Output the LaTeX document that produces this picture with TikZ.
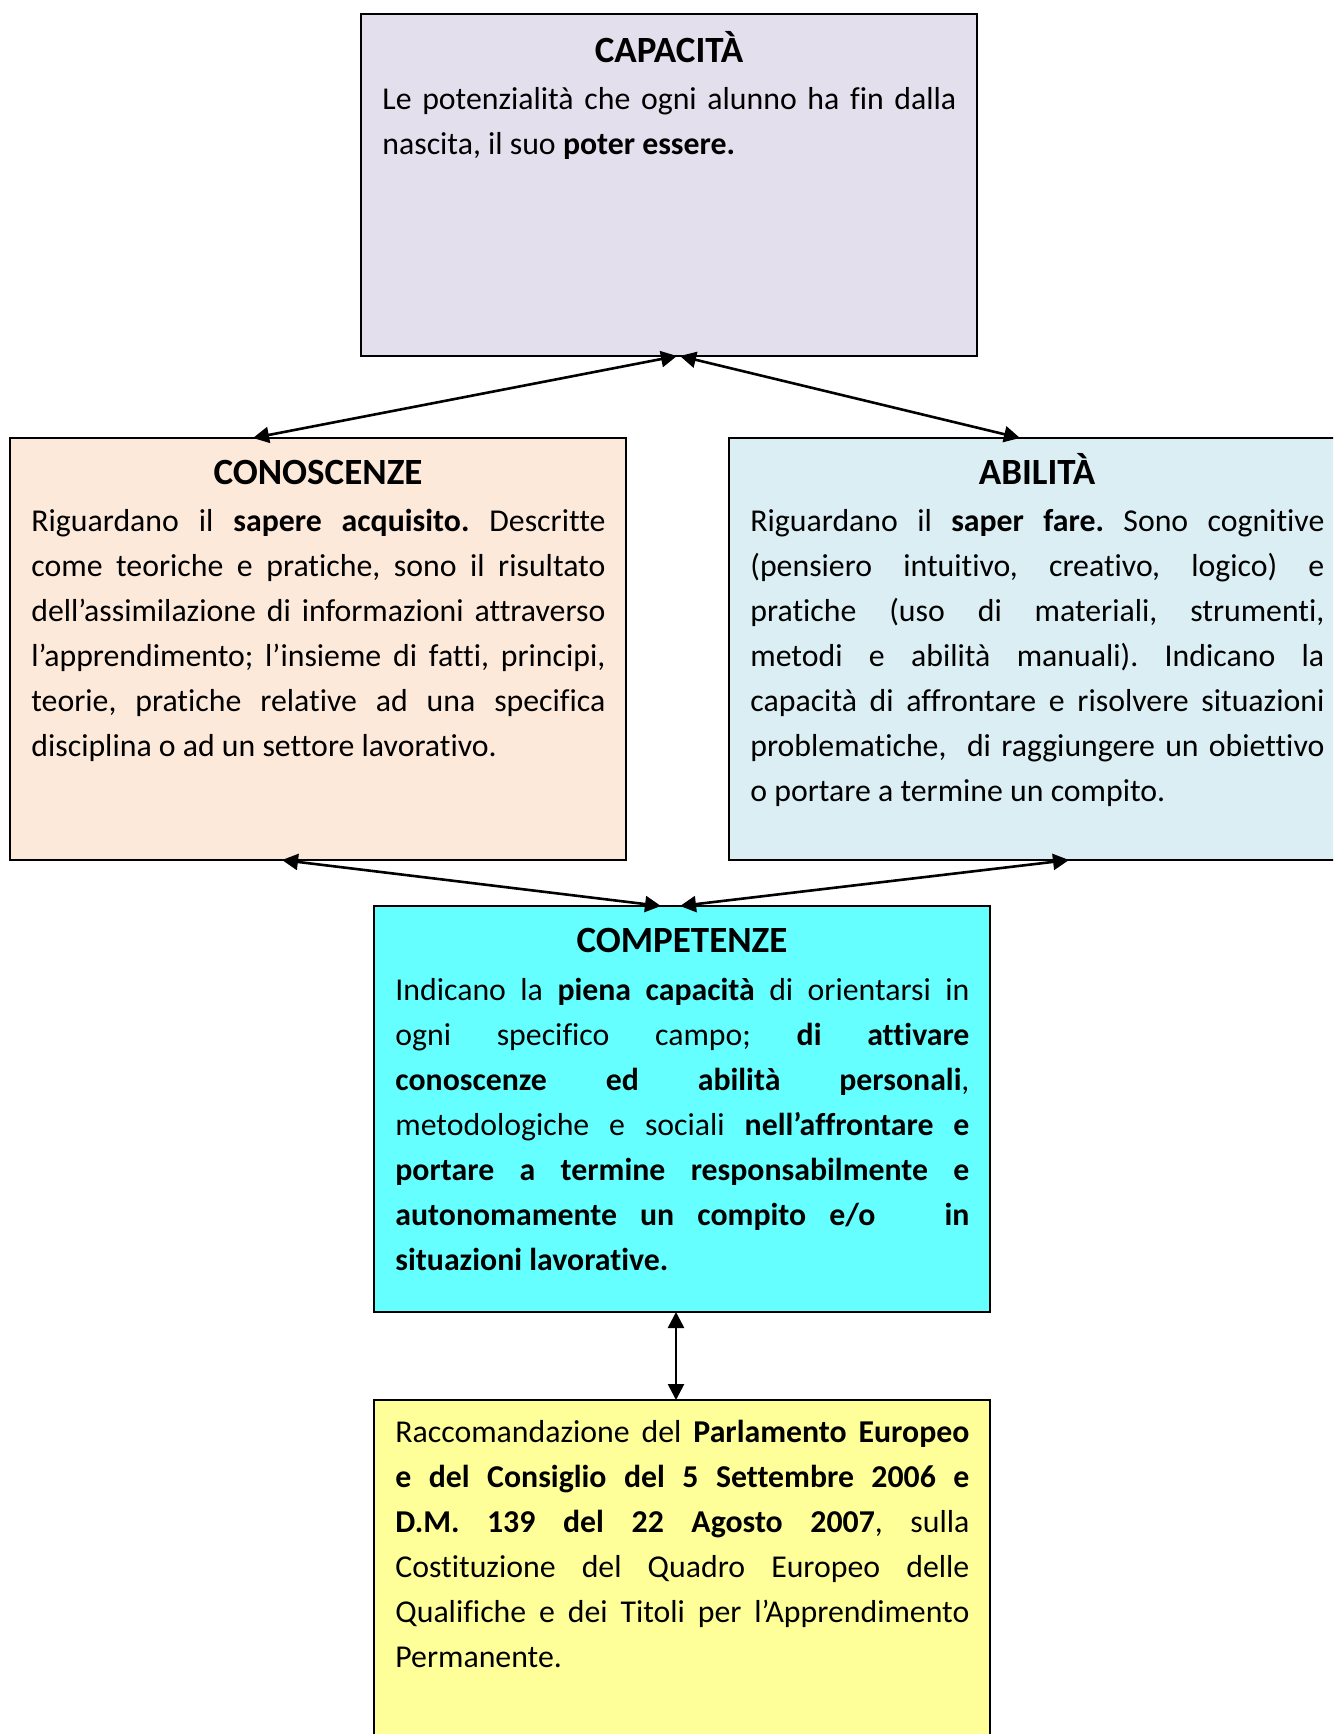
\documentclass[tikz,border=0pt]{standalone}
\usepackage{fontspec}
\setmainfont[Ligatures={TeX,NoCommon},RawFeature={-liga;-clig;-calt;-dlig}]{Carlito}
\usetikzlibrary{arrows.meta,positioning}

\definecolor{capfill}{HTML}{E4DFEC}
\definecolor{confill}{HTML}{FDE9D9}
\definecolor{abifill}{HTML}{DAEEF3}
\definecolor{comfill}{HTML}{66FFFF}
\definecolor{racfill}{HTML}{FFFF99}

\begin{document}
\begin{tikzpicture}[x=0.5pt, y=-0.5pt,
    box/.style={draw, line width=0.8pt, inner sep=0pt, outer sep=0pt, anchor=north west, minimum width=308pt},
    title/.style={font=\fontsize{18.5}{22.5}\selectfont\bfseries, inner sep=0pt, anchor=base},
    body/.style={text width=287pt, align=justify, inner sep=0pt, anchor=base west,
        font=\fontsize{15.9}{22.5}\selectfont,
        execute at begin node={\frenchspacing\hyphenpenalty=10000\exhyphenpenalty=10000\tolerance=10000}},
    link/.style={line width=1.3pt, {Triangle[length=8pt,width=8pt]}-{Triangle[length=8pt,width=8pt]}}]
    \useasboundingbox (0,0) rectangle (1333,1734);
    \clip (0,0) rectangle (1333,1734);

    % Capacita
    \node [box, fill=capfill, minimum height=171pt] (cap) at (361,14) {};
    \node [title] (captitle) at ([yshift=-24.5pt]cap.north) {CAPACITÀ};
    \node [body] (captext) at ([xshift=10.5pt,yshift=-48pt]cap.north west)
        {Le potenzialità che ogni alunno ha fin dalla\linebreak
        nascita, il suo \textbf{poter essere.}};

    % Conoscenze
    \node [box, fill=confill, minimum height=211pt] (con) at (10,438) {};
    \node [title] (context) at ([yshift=-23pt]con.north) {CONOSCENZE};
    \node [body] (conbody) at ([xshift=10.5pt,yshift=-46.5pt]con.north west)
        {Riguardano il \textbf{sapere acquisito.} Descritte\linebreak
        come teoriche e pratiche, sono il risultato\linebreak
        dell’assimilazione di informazioni attraverso\linebreak
        l’apprendimento; l’insieme di fatti, principi,\linebreak
        teorie, pratiche relative ad una specifica\linebreak
        disciplina o ad un settore lavorativo.};

    % Abilita
    \node [box, fill=abifill, minimum height=211pt] (abi) at (729,438) {};
    \node [title] (abititle) at ([yshift=-23pt]abi.north) {ABILITÀ};
    \node [body] (abibody) at ([xshift=10.5pt,yshift=-46.5pt]abi.north west)
        {Riguardano il \textbf{saper fare.} Sono cognitive\linebreak
        (pensiero intuitivo, creativo, logico) e\linebreak
        pratiche (uso di materiali, strumenti,\linebreak
        metodi e abilità manuali). Indicano la\linebreak
        capacità di affrontare e risolvere situazioni\linebreak
        problematiche, \ di raggiungere un obiettivo\linebreak
        o portare a termine un compito.};

    % Competenze
    \node [box, fill=comfill, minimum height=203pt] (com) at (374,906) {};
    \node [title] (comtitle) at ([yshift=-23pt]com.north) {COMPETENZE};
    \node [body] (combody) at ([xshift=10.5pt,yshift=-47pt]com.north west)
        {Indicano la \textbf{piena capacità} di orientarsi in\linebreak
        ogni specifico campo; \textbf{di attivare}\linebreak
        \textbf{conoscenze ed abilità personali},\linebreak
        metodologiche e sociali \textbf{nell’affrontare e}\linebreak
        \textbf{portare a termine responsabilmente e}\linebreak
        \textbf{autonomamente un compito e/o \ \ in}\linebreak
        \textbf{situazioni lavorative.}};

    % Raccomandazione
    \node [box, fill=racfill, minimum height=200pt] (rac) at (374,1400) {};
    \node [body] (racbody) at ([xshift=10.5pt,yshift=-21pt]rac.north west)
        {Raccomandazione del \textbf{Parlamento Europeo}\linebreak
        \textbf{e del Consiglio del 5 Settembre 2006 e}\linebreak
        \textbf{D.M. 139 del 22 Agosto 2007}, sulla\linebreak
        Costituzione del Quadro Europeo delle\linebreak
        Qualifiche e dei Titoli per l’Apprendimento\linebreak
        Permanente.};

    % Links
    \draw [link] ([xshift=4pt]cap.south) -- ([xshift=-32.5pt]con.north);
    \draw [link] ([xshift=5.5pt]cap.south) -- ([xshift=-8.5pt]abi.north);
    \draw [link] ([xshift=-18pt]con.south) -- ([xshift=-10.5pt]com.north);
    \draw [link] ([xshift=16pt]abi.south) -- ([xshift=-1pt]com.north);
    \draw [link] ([xshift=-3pt]com.south) -- ([xshift=-3pt]rac.north);
\end{tikzpicture}
\end{document}
